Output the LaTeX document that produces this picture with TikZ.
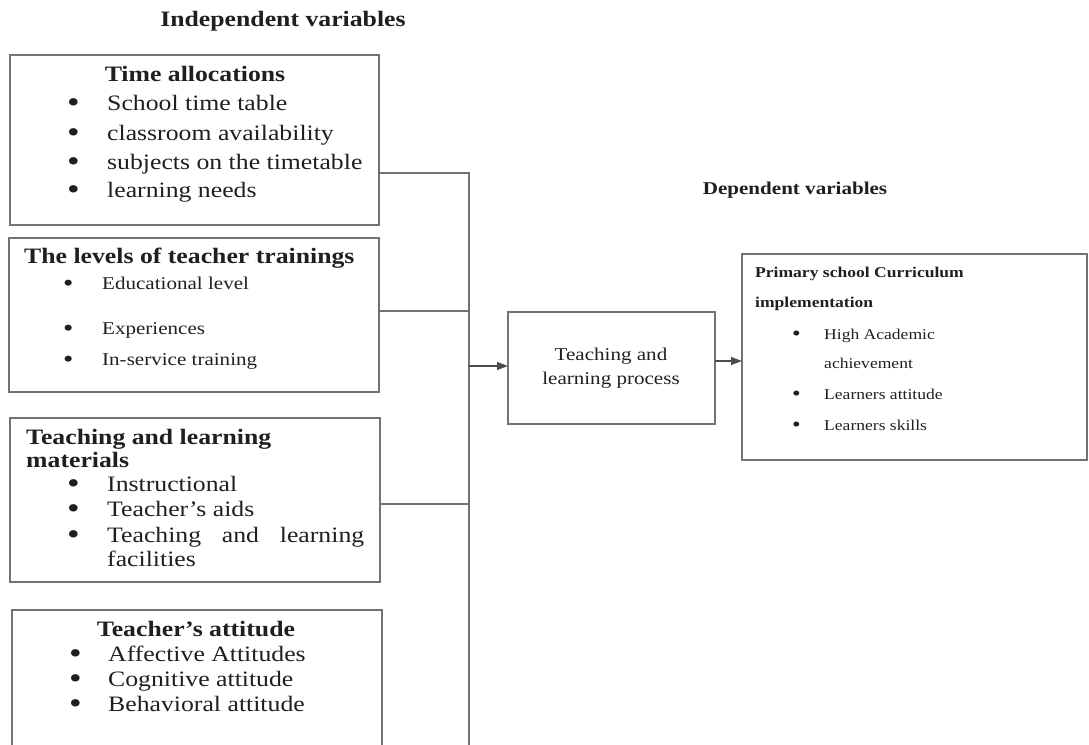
\documentclass[tikz,border=0pt]{standalone}
\usepackage{fontspec}
\setmainfont{Liberation Serif}[FakeStretch=1.17]
\usetikzlibrary{arrows.meta}
\newcommand\bitem[2]{\makebox[#1][l]{\raisebox{-0.1em}{\scalebox{1.4}{\textbullet}}}#2}
\begin{document}
\begin{tikzpicture}[x=1pt,y=-1pt,
  frame/.style={draw=black!55, line width=1.3pt, inner sep=0pt, outer sep=0pt, anchor=north west},
  link/.style={draw=black!55, line width=1.2pt},
  arr/.style={link, -{Triangle[length=11pt,width=8pt]}, draw=black!70, fill=black},
  txt/.style={inner sep=0pt, anchor=west, text height=0.68em, text depth=0.2em, text=black!88, yshift=-5pt},
  ctxt/.style={txt, anchor=center},
  big/.style={font=\fontsize{22}{26}\selectfont},
  bigb/.style={font=\fontsize{22}{26}\selectfont\bfseries},
  mid/.style={font=\fontsize{18}{22}\selectfont},
  midb/.style={font=\fontsize{18}{22}\selectfont\bfseries},
  sml/.style={font=\fontsize{15}{18}\selectfont},
  smlb/.style={font=\fontsize{15}{18}\selectfont\bfseries}]
\useasboundingbox (0,0) rectangle (1089,744);
\clip (0,0) rectangle (1089,744);
% titles
\node[ctxt,bigb] (indep) at (283,19) {Independent variables};
\node[ctxt,midb] (dep) at (795,187) {Dependent variables};
% boxes
\node[frame, minimum width=369pt, minimum height=170pt] (box1) at (10,55) {};
\node[frame, minimum width=370pt, minimum height=154pt] (box2) at (9,238) {};
\node[frame, minimum width=370pt, minimum height=164pt] (box3) at (10,418) {};
\node[frame, minimum width=370pt, minimum height=160pt] (box4) at (12,610) {};
\node[frame, minimum width=207pt, minimum height=112pt] (tlp) at (508,312) {};
\node[frame, minimum width=345pt, minimum height=206pt] (cur) at (742,254) {};
% box1
\node[ctxt,bigb] (h1) at (195,74) {Time allocations};
\node[txt,big] (b1a) at (67,103) {\bitem{40pt}{School time table}};
\node[txt,big] (b1b) at (67,133) {\bitem{40pt}{classroom availability}};
\node[txt,big] (b1c) at (67,162) {\bitem{40pt}{subjects on the timetable}};
\node[txt,big] (b1d) at (67,190) {\bitem{40pt}{learning needs}};
% box2
\node[txt,bigb] (h2) at (24,256) {The levels of teacher trainings};
\node[txt,mid] (b2a) at (63,282) {\bitem{39pt}{Educational level}};
\node[txt,mid] (b2b) at (63,327) {\bitem{39pt}{Experiences}};
\node[txt,mid] (b2c) at (63,358) {\bitem{39pt}{In-service training}};
% box3
\node[txt,bigb] (h3a) at (26,437) {Teaching and learning};
\node[txt,bigb] (h3b) at (26,460) {materials};
\node[txt,big] (b3a) at (67,484) {\bitem{40pt}{Instructional}};
\node[txt,big] (b3b) at (67,509) {\bitem{40pt}{Teacher's aids}};
\node[txt,big] (b3c) at (67,535) {\bitem{40pt}{\makebox[257pt][s]{Teaching\hfill and\hfill learning}}};
\node[txt,big] (b3d) at (107,559) {facilities};
% box4
\node[ctxt,bigb] (h4) at (196,629) {Teacher's attitude};
\node[txt,big] (b4a) at (69,654) {\bitem{39pt}{Affective Attitudes}};
\node[txt,big] (b4b) at (69,679) {\bitem{39pt}{Cognitive attitude}};
\node[txt,big] (b4c) at (69,704) {\bitem{39pt}{Behavioral attitude}};
% middle box
\node[ctxt,mid] (m1) at (611,353) {Teaching and};
\node[ctxt,mid] (m2) at (611,377) {learning process};
% right box
\node[txt,smlb] (hr1) at (755,270) {Primary school Curriculum};
\node[txt,smlb] (hr2) at (755,300) {implementation};
\node[txt,sml] (r1) at (792,332) {\bitem{32pt}{High Academic}};
\node[txt,sml] (r1b) at (824,361) {achievement};
\node[txt,sml] (r2) at (792,392) {\bitem{32pt}{Learners attitude}};
\node[txt,sml] (r3) at (792,423) {\bitem{32pt}{Learners skills}};
% connectors
\coordinate (j1) at (469,173);
\coordinate (j2) at (469,311);
\coordinate (j3) at (469,504);
\coordinate (jin) at (469,366);
\coordinate (jend) at (469,760);
\coordinate (jout) at (715,361);
\draw[link] (j1 -| box1.east) -- (j1) -- (jend);
\draw[link] (j2 -| box2.east) -- (j2);
\draw[link] (j3 -| box3.east) -- (j3);
\draw[arr] (jin) -- (jin -| tlp.west);
\draw[arr] (jout -| tlp.east) -- (jout -| cur.west);
\end{tikzpicture}
\end{document}
